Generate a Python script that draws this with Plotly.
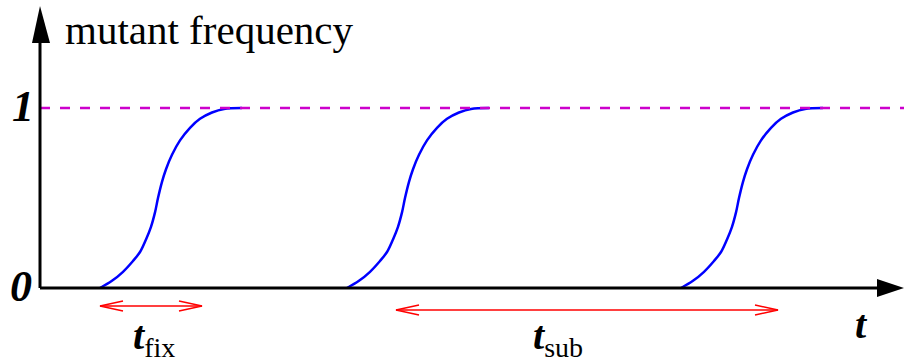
import plotly.graph_objects as go

# shape of one selective sweep: time since start vs. mutant frequency
sweep_dt = [0, 12, 23, 33, 40, 46, 51, 55, 58, 62, 66, 72, 80, 90, 100, 112, 124, 142]
sweep_freq = [0.0, 0.04, 0.09, 0.15, 0.2, 0.27, 0.34, 0.42, 0.5, 0.59, 0.66, 0.74, 0.82, 0.89, 0.94, 0.975, 0.995, 1.0]
sweep_starts = [60, 307, 641]

fix_span = [60, 162]
sub_span = [356, 738]
fix_y = -0.1
sub_y = -0.122

W, H = 904, 362
X0, Y0, Y1 = 40, 288, 108  # pixel of t=0, freq=0, freq=1
PPU = Y0 - Y1


def fy(py):
    return (Y0 - py) / PPU


def tx(px):
    return px - X0


SERIF = "Liberation Serif, Times New Roman, serif"

fig = go.Figure()

for s in sweep_starts:
    fig.add_trace(go.Scatter(
        x=[s + d for d in sweep_dt], y=sweep_freq, mode="lines",
        line=dict(color="#0000ff", width=2.5, shape="spline", smoothing=1.0),
        hoverinfo="skip",
    ))

# fixation level
fig.add_shape(type="line", x0=0, x1=tx(W), y0=1, y1=1,
              line=dict(color="#cc00cc", width=2.5, dash="10px,10px"))

# axes with filled arrow heads
ax_col = "black"
fig.add_shape(type="line", x0=0, x1=tx(878), y0=0, y1=0, line=dict(color=ax_col, width=3))
fig.add_shape(type="line", x0=0, x1=0, y0=0, y1=fy(42), line=dict(color=ax_col, width=3))
fig.add_shape(type="path", fillcolor=ax_col, line=dict(width=0),
              path=f"M {tx(877)},{fy(279)} L {tx(904)},0 L {tx(877)},{fy(297)} Z")
fig.add_shape(type="path", fillcolor=ax_col, line=dict(width=0),
              path=f"M {tx(32)},{fy(43)} L 0,{fy(6)} L {tx(50)},{fy(43)} Z")

# double-headed time spans with open heads
head_len, head_hw = 23, 5 / PPU
for (a, b), yy in [(fix_span, fix_y), (sub_span, sub_y)]:
    red = dict(color="#ff0000", width=1.5)
    fig.add_shape(type="line", x0=a, x1=b, y0=yy, y1=yy, line=red)
    for tip, back in [(a, a + head_len), (b, b - head_len)]:
        fig.add_shape(type="path", line=red,
                      path=f"M {back},{yy + head_hw} L {tip},{yy} L {back},{yy - head_hw}")


def label(text, px, py, size, xanchor="center"):
    fig.add_annotation(text=text, x=px / W, y=1 - py / H, xref="paper", yref="paper",
                       xanchor=xanchor, yanchor="middle", showarrow=False,
                       font=dict(family=SERIF, size=size, color="black"))


label("mutant frequency", 63, 30, 41, xanchor="left")
label("<b><i>1</i></b>", 36, 106, 44, xanchor="right")
label("<b><i>0</i></b>", 34, 286, 44, xanchor="right")
label("<b><i>t</i></b>", 861, 324, 40)
label("<b><i>t</i></b><sub>fix</sub>", 154, 338, 40)
label("<b><i>t</i></b><sub>sub</sub>", 558, 338, 40)

fig.update_layout(
    width=W, height=H, margin=dict(l=0, r=0, t=0, b=0),
    paper_bgcolor="white", plot_bgcolor="white", showlegend=False,
    xaxis=dict(range=[tx(0), tx(W)], visible=False, fixedrange=True),
    yaxis=dict(range=[fy(H), fy(0)], visible=False, fixedrange=True),
)

fig.write_html("out.html", config={"displayModeBar": False},
               post_script="document.body.style.margin='0';")
